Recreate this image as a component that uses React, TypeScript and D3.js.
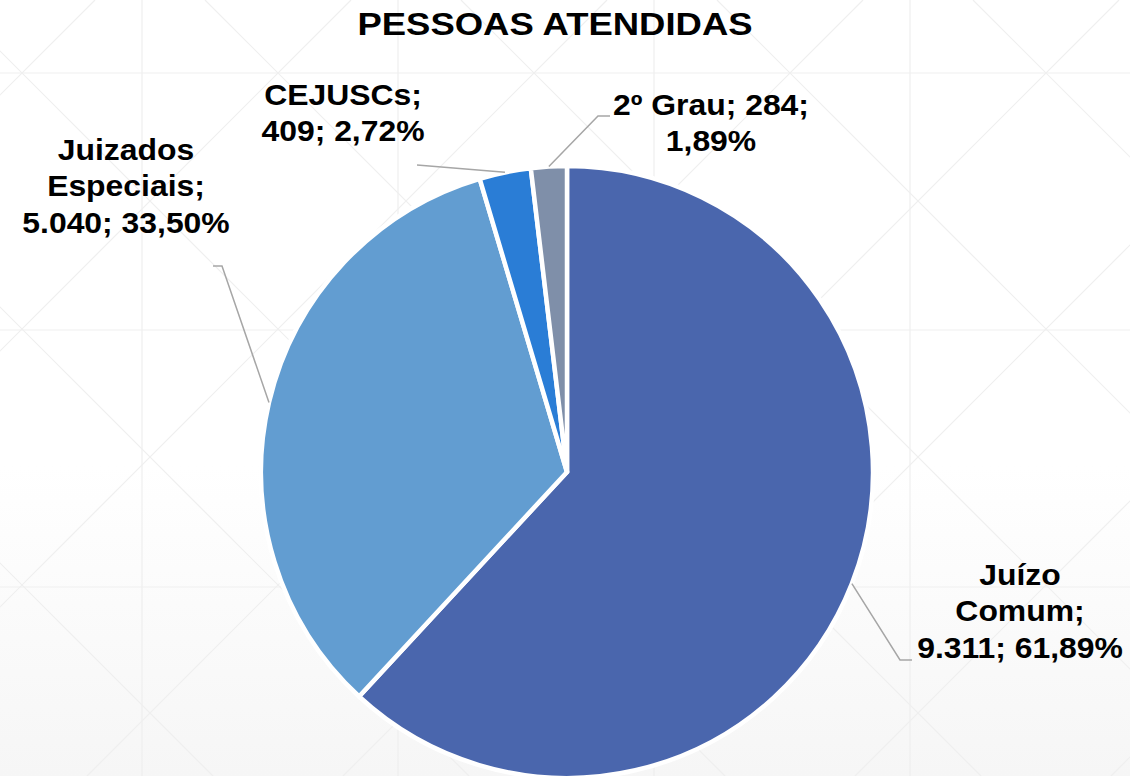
import React from "react";
import * as d3 from "d3";

const categories = ["Juízo Comum", "Juizados Especiais", "CEJUSCs", "2º Grau"];
const values = [9311, 5040, 409, 284];
const colors = ["#4A66AD", "#629DD1", "#2A7DD6", "#7F8FA9"];
const labelLines = [
  ["Juízo", "Comum;", "{v}; {p}"],
  ["Juizados", "Especiais;", "{v}; {p}"],
  ["CEJUSCs;", "{v}; {p}"],
  ["2º Grau; {v};", "{p}"],
];
const title = "PESSOAS ATENDIDAS";

const W = 1130;
const H = 776;
const CX = 567;
const CY = 472;
const R = 306;

// label layout: center x, first baseline, leader elbow, leader end
const labelPos = [
  { x: 1020, y: 585, elbow: [900, 660], end: [912, 660] },
  { x: 126, y: 160, elbow: [222, 266], end: [213, 266] },
  { x: 343, y: 105, elbow: [417, 165], end: [417, 165] },
  { x: 711, y: 115, elbow: [598, 116], end: [610, 116] },
];

const ptBR = d3.formatLocale({
  decimal: ",",
  thousands: ".",
  grouping: [3],
  currency: ["R$", ""],
});
const fmtInt = ptBR.format(",d");
const fmtPct = ptBR.format(".2%");

export default function App() {
  const total = d3.sum(values);
  const pie = d3
    .pie<number>()
    .sort(null)
    .value((d) => d)
    .startAngle(0)
    .endAngle(2 * Math.PI);
  const arcs = pie(values);
  const arcGen = d3.arc<d3.PieArcDatum<number>>().innerRadius(0).outerRadius(R);

  const gridX = d3.range(142 - 256, W + 256, 256);
  const gridY = d3.range(73 - 257, H + 257, 257);
  const diagC = d3.range(-1400, 2400, 256);

  const font = "'Liberation Sans', Arial, sans-serif";
  const labelSize = 29;
  const lineH = 36.5;
  const sx = 1.1;

  return (
    <svg
      width={W}
      height={H}
      style={{ position: "absolute", left: 0, top: 0, display: "block" }}
    >
      <defs>
        <linearGradient id="bg" x1="0" y1="0" x2="0" y2="1">
          <stop offset="0" stopColor="#ffffff" />
          <stop offset="0.6" stopColor="#ffffff" />
          <stop offset="1" stopColor="#f6f6f6" />
        </linearGradient>
        <clipPath id="clip">
          <rect x={0} y={0} width={W} height={H} />
        </clipPath>
      </defs>
      <rect x={0} y={0} width={W} height={H} fill="url(#bg)" />
      <g clipPath="url(#clip)" stroke="#efefef" strokeWidth={1.2} fill="none">
        {gridX.map((x, i) => (
          <line key={"vx" + i} x1={x} y1={0} x2={x} y2={H} />
        ))}
        {gridY.map((y, i) => (
          <line key={"hy" + i} x1={0} y1={y} x2={W} y2={y} />
        ))}
        {diagC.map((c, i) => (
          <line key={"d1" + i} x1={c + 69} y1={0} x2={c + 69 + H} y2={H} />
        ))}
        {diagC.map((c, i) => (
          <line key={"d2" + i} x1={c + 215} y1={0} x2={c + 215 - H} y2={H} />
        ))}
      </g>

      <g transform={`translate(${CX},${CY})`}>
        {arcs.map((a, i) => (
          <path
            key={categories[i]}
            d={arcGen(a) || ""}
            fill={colors[i]}
            stroke="#ffffff"
            strokeWidth={4.5}
            strokeLinejoin="miter"
          />
        ))}
      </g>

      {arcs.map((a, i) => {
        const mid = (a.startAngle + a.endAngle) / 2;
        const sxp = CX + R * Math.sin(mid);
        const syp = CY - R * Math.cos(mid);
        const lp = labelPos[i];
        return (
          <polyline
            key={"lead" + i}
            points={`${sxp},${syp} ${lp.elbow[0]},${lp.elbow[1]} ${lp.end[0]},${lp.end[1]}`}
            fill="none"
            stroke="#a6a6a6"
            strokeWidth={1.5}
          />
        );
      })}

      {arcs.map((a, i) => {
        const lp = labelPos[i];
        const v = fmtInt(values[i]);
        const p = fmtPct(values[i] / total);
        return (
          <g key={"lab" + i} transform={`translate(${lp.x},${lp.y}) scale(${sx},1)`}>
            {labelLines[i].map((ln, j) => (
              <text
                key={j}
                x={0}
                y={j * lineH}
                textAnchor="middle"
                fontFamily={font}
                fontWeight="bold"
                fontSize={labelSize}
                fill="#000000"
              >
                {ln.replace("{v}", v).replace("{p}", p)}
              </text>
            ))}
          </g>
        );
      })}

      <g transform={`translate(555,35) scale(1.14,1)`}>
        <text
          x={0}
          y={0}
          textAnchor="middle"
          fontFamily={font}
          fontWeight="bold"
          fontSize={32}
          fill="#000000"
        >
          {title}
        </text>
      </g>
    </svg>
  );
}
